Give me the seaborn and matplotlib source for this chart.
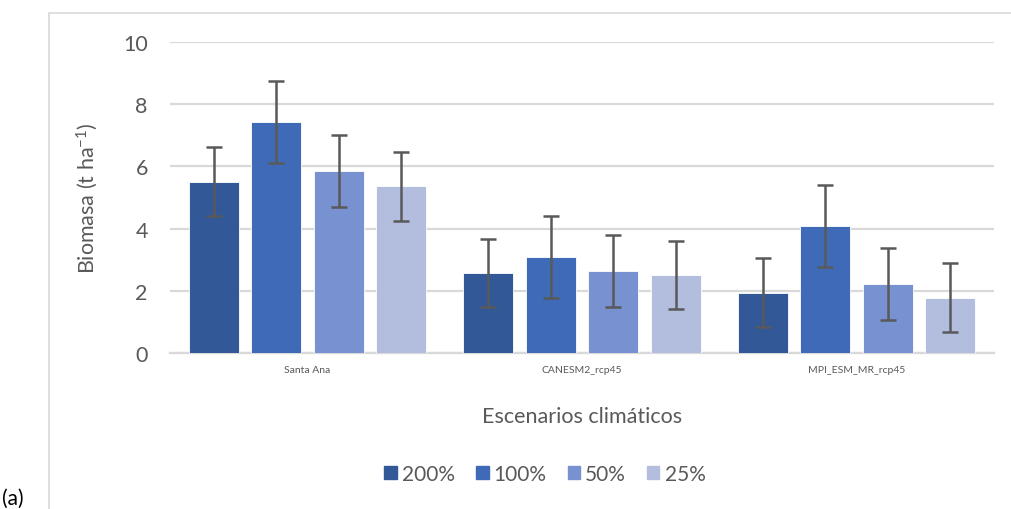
import matplotlib
matplotlib.use("Agg")
import matplotlib.pyplot as plt
import seaborn as sns
import pandas as pd
from matplotlib.patches import Rectangle

categories = ["Santa Ana", "CANESM2_rcp45", "MPI_ESM_MR_rcp45"]
levels = ["200%", "100%", "50%", "25%"]
values = {
    "200%": [5.51, 2.57, 1.94],
    "100%": [7.42, 3.08, 4.09],
    "50%":  [5.86, 2.64, 2.21],
    "25%":  [5.36, 2.50, 1.78],
}
errors = {
    "200%": [1.10, 1.10, 1.10],
    "100%": [1.32, 1.31, 1.31],
    "50%":  [1.15, 1.16, 1.16],
    "25%":  [1.10, 1.10, 1.10],
}
colors = ["#335897", "#3E6AB7", "#7891D0", "#B3BEDF"]

rows = []
for lv in levels:
    for c, v in zip(categories, values[lv]):
        rows.append({"cat": c, "level": lv, "val": v})
df = pd.DataFrame(rows)

sns.set_theme(style="white")
plt.rcParams["font.family"] = ["Lato", "DejaVu Sans"]
TXT = "#595959"

fig = plt.figure(figsize=(10.11, 5.10), dpi=100)
ax = fig.add_axes([170/1011, 156/510, 824/1011, 311/510])

sns.barplot(data=df, x="cat", y="val", hue="level", order=categories,
            hue_order=levels, palette=colors, saturation=1, width=0.91,
            gap=0.2, errorbar=None, ax=ax, edgecolor="white", linewidth=0.6,
            zorder=3)

for cont, lv in zip(ax.containers, levels):
    xs = [b.get_x() + b.get_width() / 2 for b in cont]
    ys = [b.get_height() for b in cont]
    ax.errorbar(xs, ys, yerr=errors[lv], fmt="none", ecolor=TXT,
                elinewidth=1.8, capsize=6, capthick=1.8, zorder=4)

ax.set_ylim(0, 10)
ax.set_yticks([0, 2, 4, 6, 8, 10])
ax.set_xlim(-0.5, 2.5)
ax.yaxis.grid(True, color="#d9d9d9", linewidth=1.6, zorder=0)
ax.set_axisbelow(True)
for s in ["top", "right", "left"]:
    ax.spines[s].set_visible(False)
ax.spines["bottom"].set_color("#d9d9d9")
ax.spines["bottom"].set_linewidth(1.6)
ax.tick_params(axis="y", length=0, pad=16, labelsize=15.5, labelcolor=TXT)
ax.tick_params(axis="x", length=0, pad=9, labelsize=7.5, labelcolor=TXT)

ax.set_ylabel("Biomasa (t ha$\\mathregular{^{-1}}$)", fontsize=15.5, color=TXT)
ax.yaxis.set_label_coords(-0.085, 0.5)
ax.set_xlabel("Escenarios climáticos", fontsize=15.5, color=TXT)
ax.xaxis.set_label_coords(0.5, -0.17)

ax.legend_.remove()
handles = [Rectangle((0, 0), 1, 1, color=c) for c in colors]
fig.legend(handles, levels, loc="center", bbox_to_anchor=(545/1011, 35/510),
           ncol=4, frameon=False, fontsize=15, labelcolor=TXT,
           handlelength=0.6, handleheight=0.6, handletextpad=0.25,
           columnspacing=1.0)

# outer chart frame
fig.add_artist(plt.Line2D([49/1011, 49/1011], [0, 496/510], color="#d9d9d9",
                          linewidth=1.2, transform=fig.transFigure))
fig.add_artist(plt.Line2D([49/1011, 1.0], [496/510, 496/510], color="#d9d9d9",
                          linewidth=1.2, transform=fig.transFigure))
fig.text(0.002, 0.002, "(a)", fontsize=15, color="black", ha="left", va="bottom")

fig.savefig("out.png", dpi=100)
